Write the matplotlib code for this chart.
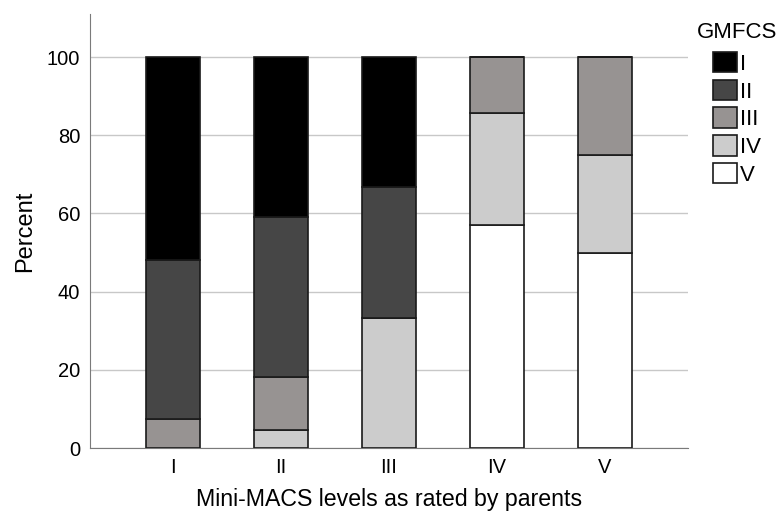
import numpy as np
import matplotlib.pyplot as plt

plt.rcParams['font.family'] = ['Liberation Sans', 'DejaVu Sans']

levels = ["I", "II", "III", "IV", "V"]
gmfcs = ["I", "II", "III", "IV", "V"]

# percent of each GMFCS level within each Mini-MACS level
pct_I = [52.0, 41.0, 33.3, 0.0, 0.0]
pct_II = [40.6, 40.8, 33.4, 0.0, 0.0]
pct_III = [7.4, 13.7, 0.0, 14.3, 25.0]
pct_IV = [0.0, 4.5, 33.3, 28.6, 25.0]
pct_V = [0.0, 0.0, 0.0, 57.1, 50.0]

colors = {"I": "#000000", "II": "#464646", "III": "#979392", "IV": "#cccccc", "V": "#ffffff"}

W, H = 780, 518
fig = plt.figure(figsize=(7.8, 5.18), dpi=100)
ax = fig.add_axes([90 / W, 1 - 448 / H, 598 / W, 434 / H])

x = np.arange(len(levels))
stack = [("V", pct_V), ("IV", pct_IV), ("III", pct_III), ("II", pct_II), ("I", pct_I)]
bottom = np.zeros(len(levels))
handles = {}
for name, vals in stack:
    vals = np.array(vals)
    bars = ax.bar(x, vals, 0.5, bottom=bottom, color=colors[name],
                  edgecolor="#1a1a1a", linewidth=1.2, zorder=3)
    handles[name] = bars
    bottom += vals

ax.set_xlim(-0.77, 4.77)
ax.set_ylim(0, 111)
ax.set_yticks([0, 20, 40, 60, 80, 100])
ax.set_xticks(x)
ax.set_xticklabels(levels)
ax.tick_params(length=0, labelsize=14.5, pad=7)
ax.yaxis.grid(True, color="#c8c8c8", linewidth=1, zorder=0)
ax.set_axisbelow(True)

for s in ["top", "right"]:
    ax.spines[s].set_visible(False)
ax.spines["left"].set_color("#7a7a7a")
ax.spines["bottom"].set_color("#7a7a7a")

ax.set_ylabel("Percent", fontsize=17, labelpad=8)
ax.set_xlabel("Mini-MACS levels as rated by parents", fontsize=16.7, labelpad=8)

# legend title drawn separately so the swatches sit indented under it
fig.text(697 / W, 1 - 32 / H, "GMFCS", fontsize=16, va="center", ha="left")
leg = fig.legend([handles[g] for g in gmfcs], gmfcs, loc="upper left",
                 bbox_to_anchor=(713 / W, 1 - 52 / H), frameon=False, fontsize=16,
                 handlelength=1.06, handleheight=1.04, handletextpad=0.14,
                 labelspacing=0.22, borderpad=0, borderaxespad=0)

fig.savefig("out.png", dpi=100)
